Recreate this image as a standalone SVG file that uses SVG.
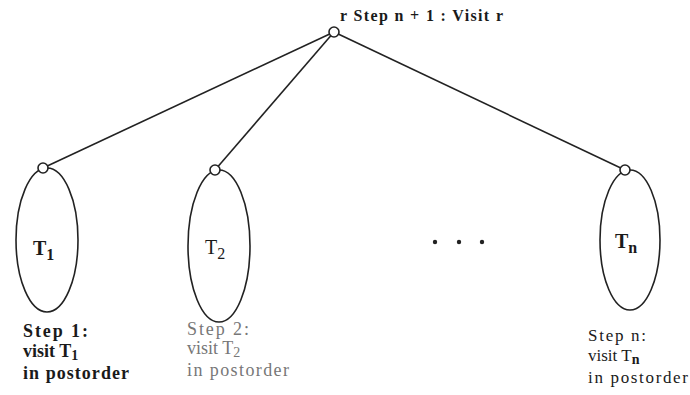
<svg xmlns="http://www.w3.org/2000/svg" width="690" height="395" viewBox="0 0 690 395">
<style>
.e{fill:none;stroke:#222;stroke-width:1.6}
.c{fill:#fff;stroke:#222;stroke-width:1.6}
.l{stroke:#222;stroke-width:1.6;fill:none}
.t{font-family:"Liberation Serif",serif;fill:#1a1a1a}
.b{font-weight:bold}
.g{fill:#777}
.s{font-size:14px}
</style>
<rect width="690" height="395" fill="#fff"/>
<g id="connectors">
<line class="l" x1="334" y1="32" x2="43" y2="168"/>
<line class="l" x1="334" y1="32" x2="215" y2="170"/>
<line class="l" x1="334" y1="32" x2="625" y2="170"/>
</g>
<g id="root">
<circle class="c" cx="334" cy="32" r="5"/>
<text class="t b" x="340" y="21" font-size="16" textLength="163" lengthAdjust="spacing">r  Step n + 1 : Visit r</text>
</g>
<g id="T1">
<ellipse class="e" cx="47" cy="240" rx="31" ry="72"/>
<circle class="c" cx="43" cy="168" r="5"/>
<text class="t b" x="33" y="255" font-size="20">T<tspan font-size="16" dy="5">1</tspan></text>
<text class="t b" x="23" y="337" font-size="18" textLength="65">Step 1:</text>
<text class="t b" x="23" y="357" font-size="18">visit T<tspan class="s" dy="3">1</tspan></text>
<text class="t b" x="23" y="379" font-size="18" textLength="106">in postorder</text>
</g>
<g id="T2">
<ellipse class="e" cx="219" cy="246" rx="31" ry="76"/>
<circle class="c" cx="215" cy="170" r="5"/>
<text class="t" x="205" y="254" font-size="20">T<tspan font-size="16" dy="5">2</tspan></text>
<text class="t g" x="187" y="335" font-size="18" textLength="62">Step 2:</text>
<text class="t g" x="187" y="354" font-size="18">visit T<tspan class="s" dy="3">2</tspan></text>
<text class="t g" x="187" y="376" font-size="18" textLength="102">in postorder</text>
</g>
<g id="dots">
<circle cx="435" cy="242" r="2.2" fill="#222"/>
<circle cx="459" cy="242" r="2.2" fill="#222"/>
<circle cx="482" cy="242" r="2.2" fill="#222"/>
</g>
<g id="Tn">
<ellipse class="e" cx="630" cy="240" rx="30" ry="70"/>
<circle class="c" cx="625" cy="170" r="5"/>
<text class="t b" x="615" y="248" font-size="20">T<tspan font-size="16" dy="5">n</tspan></text>
<text class="t" x="588" y="341" font-size="17" textLength="58">Step n:</text>
<text class="t" x="588" y="361" font-size="17">visit T<tspan class="b s" dy="3">n</tspan></text>
<text class="t" x="588" y="383" font-size="17" textLength="100">in postorder</text>
</g>
</svg>
